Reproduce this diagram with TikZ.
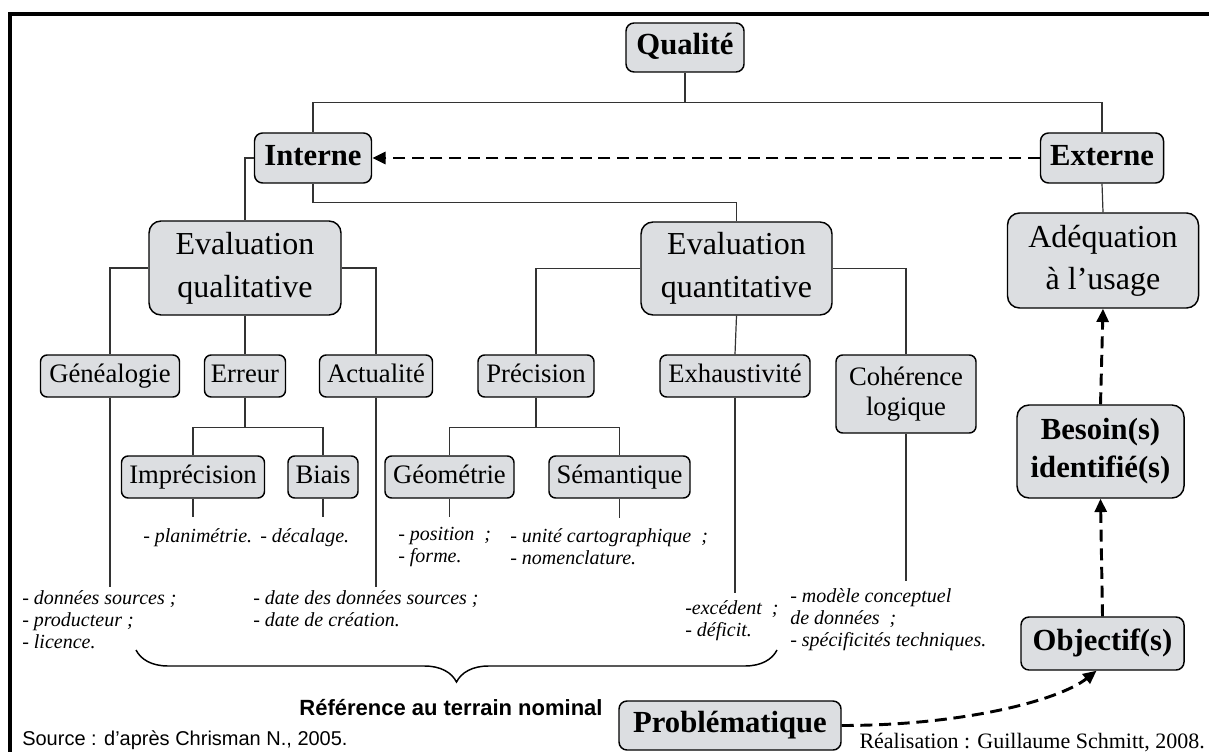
\documentclass[tikz,border=0pt]{standalone}
\usepackage{fontspec}
\setmainfont{Liberation Serif}
\setsansfont{Liberation Sans}
\usetikzlibrary{arrows.meta,decorations.pathreplacing}

\definecolor{boxfill}{RGB}{220,222,225}
\tikzset{
  wh/.style 2 args={minimum width=#1*0.75pt,minimum height=#2*0.75pt},
  box/.style={draw=black,line width=1.1pt,fill=boxfill,rounded corners=5pt,inner sep=0pt,align=center},
  smallfont/.style={font=\fontsize{20}{23}\selectfont},
  smallbox/.style={box,smallfont,text height=14pt,text depth=4.5pt},
  bigbox/.style={box,rounded corners=9pt,font=\fontsize{24}{32}\selectfont},
  keyfont/.style={font=\fontsize{23}{28.5}\selectfont\bfseries},
  keybox/.style={box,rounded corners=6pt,keyfont,text height=16pt,text depth=5pt},
  link/.style={draw=black!80,line width=0.9pt},
  dasharrow/.style={line width=2.2pt,dash pattern=on 9pt off 5pt,-{Triangle[length=10pt,width=9pt]}},
  note/.style={font=\fontsize{15}{16.5}\selectfont\itshape,align=left,inner sep=0pt,anchor=west},
}

\begin{document}
\begin{tikzpicture}[x=0.75pt,y=0.75pt,yscale=-1,xscale=1]
\useasboundingbox (0,0) rectangle (1209,752);
%Frame
\draw[line width=2.6pt] (10,760) -- (10,14) -- (1215,14);

% Boxes
\node[keybox,wh={118}{49}] (qualite) at (685,47.5) {Qualité};
\node[keybox,wh={117}{50}] (interne) at (313,158) {Interne};
\node[keybox,wh={123}{50}] (externe) at (1102,158) {Externe};
\node[bigbox,wh={192}{94}] (evalql) at (245,268) {Evaluation\\qualitative};
\node[bigbox,wh={191}{93}] (evalqt) at (736.5,268.5) {Evaluation\\quantitative};
\node[bigbox,wh={191}{95},font=\fontsize{24}{31.5}\selectfont] (adequation) at (1103,260.5) {Adéquation\\à l’usage};
\node[smallbox,wh={139}{42}] (genealogie) at (110,376) {Généalogie};
\node[smallbox,wh={81}{42}] (erreur) at (245,376) {Erreur};
\node[smallbox,wh={113}{42}] (actualite) at (376,376) {Actualité};
\node[smallbox,wh={116}{42}] (precision) at (536,376) {Précision};
\node[smallbox,wh={150}{42}] (exhaust) at (735,376) {Exhaustivité};
\node[box,smallfont,wh={140}{78}] (coherence) at (906,394) {Cohérence\\logique};
\node[smallbox,wh={143}{42}] (imprecision) at (193,477) {Imprécision};
\node[smallbox,wh={70}{42}] (biais) at (323,477) {Biais};
\node[smallbox,wh={129}{42}] (geometrie) at (449.5,477) {Géométrie};
\node[smallbox,wh={141}{42}] (semantique) at (619.5,477) {Sémantique};
\node[box,keyfont,wh={167}{93},rounded corners=9pt] (besoin) at (1100.5,451.5) {Besoin(s)\\identifié(s)};
\node[keybox,wh={163}{53}] (objectif) at (1102.5,643.5) {Objectif(s)};
\node[keybox,wh={222}{49}] (problematique) at (730,725.5) {Problématique};

%Straight Lines
\draw[link] (qualite.south) -- ++(0,30) coordinate (q1) -| (interne.north);
\draw[link] (q1) -| (externe.north);
\draw[link] (externe.south) -- (adequation.north);
\draw[link] (interne.west) -| (evalql.north);
\draw[link] (interne.south) -- ++(0,19) -| (evalqt.north);
\draw[link] (evalql.west) -| (genealogie.north);
\draw[link] (evalql.east) -| (actualite.north);
\draw[link] (evalql.south) -- (erreur.north);
\draw[link] (evalqt.west) -| (precision.north);
\draw[link] (evalqt.east) -| (coherence.north);
\draw[link] (evalqt.south) -- (exhaust.north);
\draw[link] (erreur.south) -- ++(0,30) coordinate (e1) -| (imprecision.north);
\draw[link] (e1) -| (biais.north);
\draw[link] (precision.south) -- ++(0,30) coordinate (p1) -| (geometrie.north);
\draw[link] (p1) -| (semantique.north);
\draw[link] (genealogie.south) -- ++(0,189);
\draw[link] (actualite.south) -- ++(0,189);
\draw[link] (exhaust.south) -- ++(0,195);
\draw[link] (coherence.south) -- ++(0,147);
\draw[link] (imprecision.south) -- ++(0,18);
\draw[link] (biais.south) -- ++(0,18);
\draw[link] (geometrie.south) -- ++(0,18);
\draw[link] (semantique.south) -- ++(0,19);

%Dashed arrows
\draw[dasharrow] (externe.west) -- (interne.east);
\draw[dasharrow] (besoin.north) -- (adequation.south);
\draw[dasharrow] (objectif.north) -- (besoin.south);
\draw[dasharrow] (problematique.east) .. controls +(120,0) and +(-38,30) .. ([xshift=-4.5pt]objectif.south);

% Text Node
\node[note] (planim) at (143,538) {- planimétrie.};
\node[note] (decal) at (260,538) {- décalage.};
\node[note] (posit) at (398,547) {- position\enspace;\\- forme.};
\node[note] (seman) at (510,547) {- unité cartographique\enspace;\\- nomenclature.};
\node[note] (sources) at (22,620) {- données sources ;\\- producteur ;\\- licence.};
\node[note] (dates) at (253,609) {- date des données sources ;\\- date de création.};
\node[note] (exces) at (685,621) {-excédent\enspace;\\- déficit.};
\node[note] (modele) at (790,620) {- modèle conceptuel\\de données\enspace;\\- spécificités techniques.};

%Brace
\coordinate (brL) at (136,650);
\coordinate (brR) at (777,650);
\draw[line width=1.1pt,decorate,decoration={brace,mirror,amplitude=24pt}] (brL) -- (brR);
\node[font=\sffamily\bfseries\fontsize{16.5}{18}\selectfont] (terrain) at (451,708) {Référence au terrain nominal};

% Credits
\node[anchor=west,inner sep=0pt,font=\sffamily\fontsize{15}{18}\selectfont] (source) at (22,740) {Source : d’après Chrisman N., 2005.};
\node[anchor=east,inner sep=0pt,font=\fontsize{16.5}{18}\selectfont] (realis) at (1205,743) {Réalisation : Guillaume Schmitt, 2008.};
\end{tikzpicture}
\end{document}
